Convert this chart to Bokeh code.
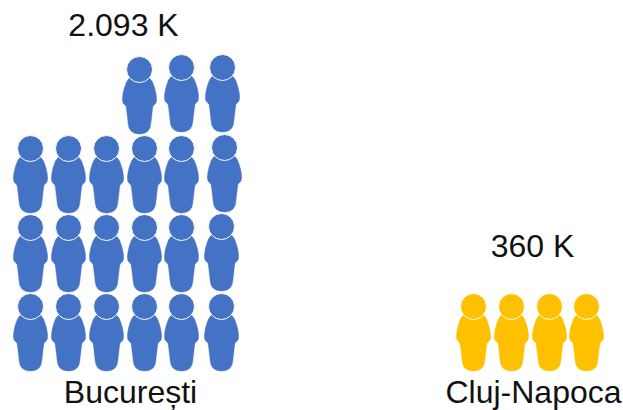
from bokeh.plotting import figure
from bokeh.embed import file_html
from bokeh.resources import INLINE
from bokeh.models import ColumnDataSource
from bokeh.core.properties import value
import math

# data
cities = ["București", "Cluj-Napoca"]
population_k = [2093, 360]
value_labels = ["2.093 K", "360 K"]
people_per_icon = 100
colors = ["#4472C4", "#FFC000"]

# layout (pixels from plot origin; hand placement of the pictogram)
W, H = 623, 410
bucuresti_slots = [(30, 306), (68, 306), (106, 306), (144, 306), (181, 306), (221, 306),
                   (30, 227), (68, 227), (106, 227), (144, 227), (181, 227), (221, 226),
                   (30, 148), (68, 148), (106, 148), (144, 148), (181, 148), (224, 147),
                   (139, 69), (181, 67), (222, 67)]
cluj_slots = [(473, 306), (511, 306), (549, 306), (586, 306)]
slots = [bucuresti_slots, cluj_slots]
name_pos = [(130, 391), (533, 391)]
label_pos = [(123, 24), (532, 245)]

HEAD_R = 13
# half of the body outline, relative to the head centre (half-width, dy)
outline = [(0, 5), (6, 6.5), (10.5, 9), (13, 12.5), (15, 18), (16.3, 23), (17, 28), (17, 31),
           (16.5, 33.5), (14.8, 35.3), (13.4, 37), (12.8, 41), (12, 48), (11.2, 55), (10.4, 58.5),
           (8.5, 61.5), (5.5, 63.5), (2.5, 64.2), (0, 64.4)]

p = figure(width=W, height=H, x_range=(0, W), y_range=(H, 0), output_backend="svg",
           toolbar_location=None, min_border=0, outline_line_color=None)
p.axis.visible = False
p.grid.visible = False
p.background_fill_color = "white"
p.border_fill_color = "white"

for i, city in enumerate(cities):
    n = math.ceil(population_k[i] / people_per_icon)
    pts = slots[i][:n]
    bx, by = [], []
    for cx, cy in pts:
        right = [(cx + a, cy + b) for a, b in outline]
        left = [(cx - a, cy + b) for a, b in reversed(outline[1:-1])]
        ring = right + left
        bx.append([q[0] for q in ring])
        by.append([q[1] for q in ring])
    p.patches(bx, by, fill_color=colors[i], line_color=colors[i], line_width=0.5)
    p.circle([q[0] for q in pts], [q[1] for q in pts], radius=HEAD_R,
             fill_color=colors[i], line_color="white", line_width=1)

src = ColumnDataSource(dict(x=[q[0] for q in name_pos], y=[q[1] for q in name_pos], t=cities))
p.text("x", "y", text="t", source=src, text_font=value("Liberation Sans"), text_font_size="32px",
       text_align="center", text_baseline="alphabetic", text_color="#111111")
src2 = ColumnDataSource(dict(x=[q[0] for q in label_pos], y=[q[1] for q in label_pos], t=value_labels))
p.text("x", "y", text="t", source=src2, text_font=value("Liberation Sans"), text_font_size="32px",
       text_align="center", text_baseline="alphabetic", text_color="#111111")

open("out.html", "w").write(file_html(p, INLINE))
